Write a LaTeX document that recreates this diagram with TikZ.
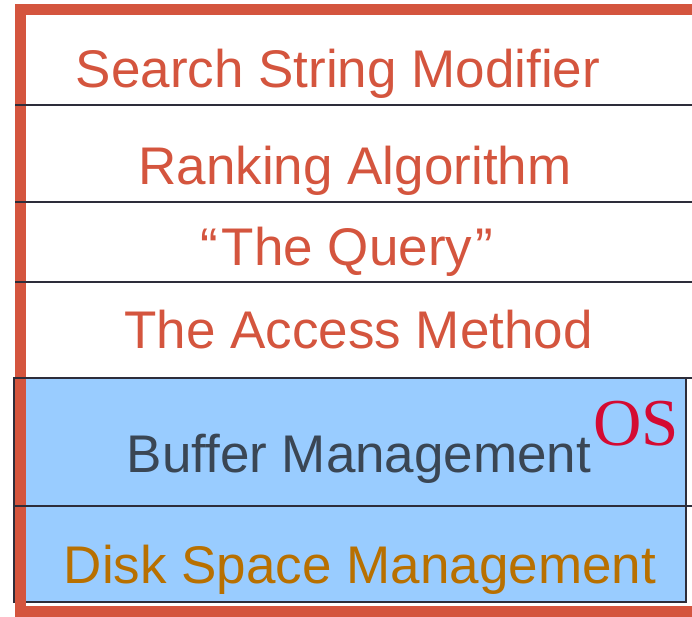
\documentclass[tikz,border=0pt]{standalone}
\usepackage{fontspec}
\setmainfont{Liberation Sans}
\newfontfamily\osfont{Liberation Serif}
\definecolor{framered}{RGB}{212,85,62}
\definecolor{osblue}{RGB}{153,204,255}
\definecolor{bufgray}{RGB}{58,70,84}
\definecolor{diskbrown}{RGB}{184,112,0}
\definecolor{oscrimson}{RGB}{212,10,50}
\definecolor{rulegray}{RGB}{45,45,58}

\tikzset{layer/.style = {anchor = base,
                         inner sep = 0pt,
                         font = \fontsize{53}{60}\selectfont},
         rule/.style = {draw = rulegray,
                        line width = 2.2pt}}

\begin{document}
\begin{tikzpicture}[x=1pt,y=-1pt]
		\useasboundingbox (0,0) rectangle (692,616);
		% blue part
		\path[fill = osblue, draw = rulegray, line width = 2pt] (14,378) rectangle (686,602);
		% red frame
		\draw[framered, line width = 11pt] (692,9.5) -- (20.5,9.5) -- (20.5,611.5) -- (692,611.5);
		% rules between the layers
		\path[rule] (15,105) -- (692,105);
		\path[rule] (15,202) -- (692,202);
		\path[rule] (15,282) -- (692,282);
		\path[rule] (14,378) -- (692,378);
		\path[rule] (14,506) -- (692,506);
		\node[layer, text = framered] (search) at (338,87) {Search String Modifier};
		\node[layer, text = framered] (rank) at (355,184) {Ranking Algorithm};
		\node[layer, text = framered] (query) at (346.5,265) {“\kern4pt The Query\kern3pt”};
		\node[layer, text = framered] (access) at (358.5,348) {The Access Method};
		\node[layer, text = bufgray] (buffer) at (359,472) {Buffer Management};
		\node[anchor = base west, inner sep = 0pt, text = oscrimson,
		      font = \osfont\fontsize{67}{70}\selectfont] (os) at (593,445) {OS};
		\node[layer, text = diskbrown] (disk) at (360,583) {Disk Space Management};
	\end{tikzpicture}
\end{document}
